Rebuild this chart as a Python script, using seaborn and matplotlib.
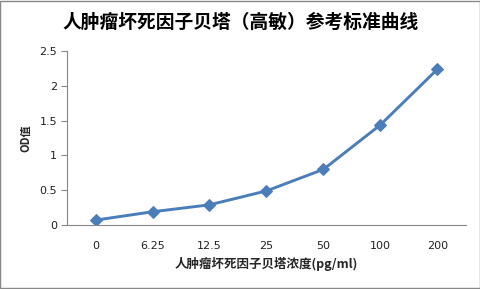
import matplotlib
matplotlib.use("Agg")
import matplotlib.pyplot as plt
import seaborn as sns
import pandas as pd
import numpy as np

categories = ["0", "6.25", "12.5", "25", "50", "100", "200"]
od_values = [0.07, 0.19, 0.29, 0.49, 0.80, 1.44, 2.24]
y_ticks = [0, 0.5, 1, 1.5, 2, 2.5]
y_tick_labels = ["0", "0.5", "1", "1.5", "2", "2.5"]

sns.set_style("white")
plt.rcParams['font.family'] = ['DejaVu Sans', 'Noto Sans CJK SC']

df = pd.DataFrame({"x": np.arange(len(categories)), "od": od_values})

fig = plt.figure(figsize=(4.81, 2.89), dpi=100)
ax = fig.add_axes([67/481, 1-225/289, (466-67)/481, (225-51)/289])

sns.lineplot(data=df, x="x", y="od", ax=ax, color="#4A7EBB", linewidth=2.1,
             marker="D", markersize=6, markeredgecolor="#4A7EBB", legend=False)

ax.set_xlim(-0.5, len(categories) - 0.5)
ax.set_ylim(0, 2.5)
ax.set_xticks(np.arange(len(categories)))
ax.set_xticklabels(categories, fontsize=8, color="#222222")
ax.set_yticks(y_ticks)
ax.set_yticklabels(y_tick_labels, fontsize=8, color="#222222")
ax.tick_params(axis="y", which="both", left=True, length=4, width=0.8, color="#888888", pad=3)
ax.tick_params(axis="x", which="both", bottom=False, pad=8)

for s in ["top", "right"]:
    ax.spines[s].set_visible(False)
for s in ["left", "bottom"]:
    ax.spines[s].set_color("#888888")
    ax.spines[s].set_linewidth(0.8)

ax.set_xlabel("人肿瘤坏死因子贝塔浓度(pg/ml)", fontsize=9, fontweight="bold",
              family=['Noto Sans CJK SC', 'DejaVu Sans'], labelpad=4)
ax.set_ylabel("OD值", fontsize=8, fontweight="bold",
              family=['Noto Sans CJK SC', 'DejaVu Sans'], labelpad=5)

fig.text(0.5, 1-22/289, "人肿瘤坏死因子贝塔（高敏）参考标准曲线", ha="center", va="center",
         fontsize=13.5, fontweight="bold", color="black",
         family=['Noto Sans CJK SC', 'DejaVu Sans'])

fig.patches.append(plt.Rectangle((0.001, 0.002), 0.997, 0.995, transform=fig.transFigure,
                                 fill=False, edgecolor="#888888", linewidth=1))

fig.savefig("out.png", dpi=100)
